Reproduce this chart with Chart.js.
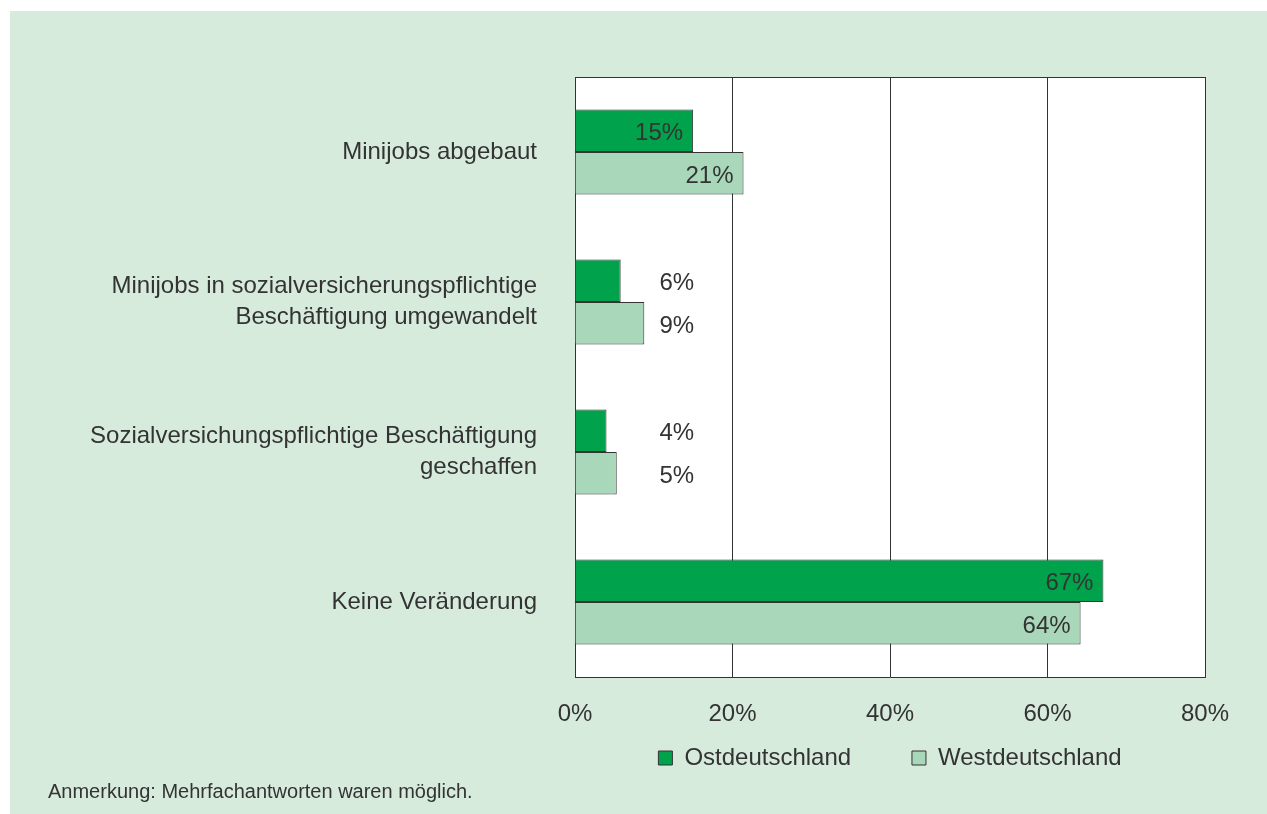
<!DOCTYPE html>
<html><head><meta charset="utf-8">
<script src="https://cdn.jsdelivr.net/npm/chart.js@4"></script>
<style>
html,body{margin:0;padding:0;background:#fff;overflow:hidden;}
#panel{position:absolute;left:10px;top:11px;right:0;bottom:0;background:#d7ebdd;}
#wrap{position:absolute;left:0;top:0;width:1267px;height:814px;}
#note{position:absolute;left:48px;top:779px;font:20px "Liberation Sans",Arial,sans-serif;color:#333;line-height:24px;white-space:nowrap;}
</style></head><body>
<div id="panel"></div>
<div id="wrap"><canvas id="c" width="1267" height="814"></canvas></div>
<div id="note">Anmerkung: Mehrfachantworten waren möglich.</div>
<script>
const categories = [
  "Minijobs abgebaut",
  ["Minijobs in sozialversicherungspflichtige", "Beschäftigung umgewandelt"],
  ["Sozialversichungspflichtige Beschäftigung", "geschaffen"],
  "Keine Veränderung"
];
const seriesNames = ["Ostdeutschland", "Westdeutschland"];
const ostValues = [15.0, 5.8, 4.0, 67.1];
const westValues = [21.4, 8.8, 5.3, 64.2];
const tickValues = [0, 20, 40, 60, 80];

const FONT = {family: '"Liberation Sans", Arial, sans-serif', size: 24, lineHeight: 1.3};
const TXT = '#333333';

const plotBg = {
  id: 'plotBg',
  beforeDraw(chart) {
    const a = chart.chartArea, ctx = chart.ctx;
    ctx.save(); ctx.fillStyle = '#ffffff';
    ctx.fillRect(a.left, a.top, a.right - a.left, a.bottom - a.top);
    ctx.restore();
  },
  afterDraw(chart) {
    const a = chart.chartArea, ctx = chart.ctx;
    ctx.save(); ctx.strokeStyle = '#333'; ctx.lineWidth = 1;
    ctx.beginPath();
    ctx.moveTo(Math.round(a.left) + 0.5, Math.round(a.top) + 0.5);
    ctx.lineTo(Math.round(a.right) + 0.5, Math.round(a.top) + 0.5);
    ctx.lineTo(Math.round(a.right) + 0.5, Math.round(a.bottom) + 0.5);
    ctx.stroke();
    ctx.restore();
  }
};

const valueLabels = {
  id: 'valueLabels',
  afterDatasetsDraw(chart) {
    const ctx = chart.ctx, xs = chart.scales.x;
    ctx.save();
    ctx.font = '24px "Liberation Sans", Arial, sans-serif';
    ctx.fillStyle = TXT; ctx.textAlign = 'right'; ctx.textBaseline = 'middle';
    chart.data.datasets.forEach((ds, i) => {
      chart.getDatasetMeta(i).data.forEach((bar, j) => {
        const v = ds.data[j];
        const txt = Math.round(v) + '%';
        const x = v >= 10 ? bar.x - 10 : xs.getPixelForValue(15) + 1;
        ctx.fillText(txt, x, bar.y + 3);
      });
    });
    ctx.restore();
  }
};

new Chart(document.getElementById('c'), {
  type: 'bar',
  data: {
    labels: categories,
    datasets: [
      {label: seriesNames[0], data: ostValues, backgroundColor: '#00a24b', borderColor: '#333', borderWidth: 1, categoryPercentage: 0.567, barPercentage: 1.0},
      {label: seriesNames[1], data: westValues, backgroundColor: '#a9d7b9', borderColor: '#333', borderWidth: 1, categoryPercentage: 0.567, barPercentage: 1.0}
    ]
  },
  options: {
    responsive: false, animation: false, indexAxis: 'y',
    layout: {padding: {top: 77, right: 62, left: 0, bottom: 34}},
    plugins: {
      tooltip: {enabled: false},
      legend: {
        position: 'bottom', fullSize: false,
        labels: {
          font: FONT, color: TXT, boxWidth: 14, boxHeight: 14, padding: 8,
          generateLabels(chart) {
            const items = Chart.defaults.plugins.legend.labels.generateLabels(chart);
            items[0].text += '\u2003\u2003\u2009';
            return items;
          }
        }
      }
    },
    scales: {
      x: {
        min: 0, max: 80,
        afterBuildTicks(s) { s.ticks = tickValues.map(v => ({value: v})); },
        ticks: {callback: v => v + '%', padding: 22, font: FONT, color: TXT, maxRotation: 0},
        grid: {color: '#333', lineWidth: 1, drawTicks: false},
        border: {color: '#333'},
        afterFit(s) { s.height = 61; }
      },
      y: {
        ticks: {padding: 38, font: FONT, color: TXT},
        grid: {display: false, drawTicks: false},
        border: {display: true, color: '#333'},
        afterFit(s) { s.width = 575; }
      }
    }
  },
  plugins: [plotBg, valueLabels]
});
</script>
</body></html>
